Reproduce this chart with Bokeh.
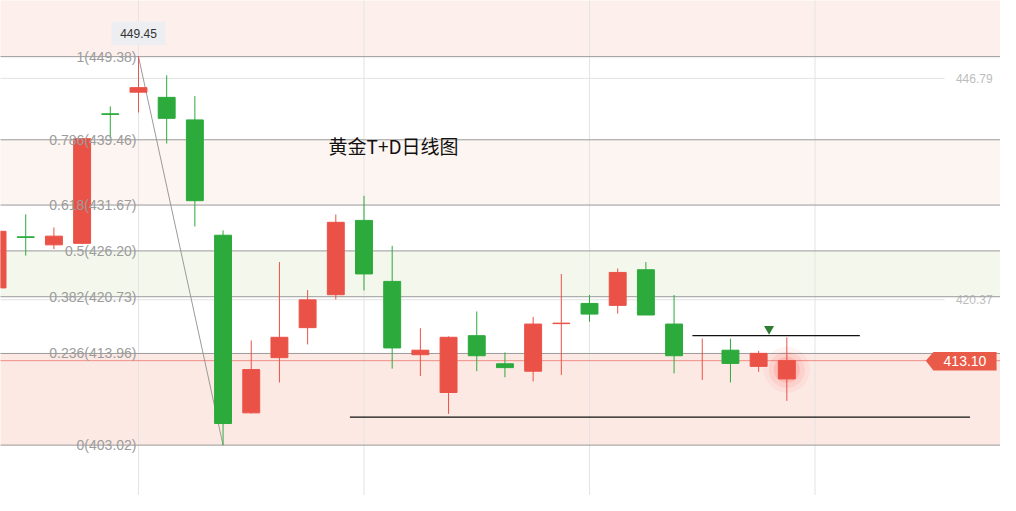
from bokeh.plotting import figure
from bokeh.models import Range1d, ColumnDataSource
from bokeh.embed import file_html
from bokeh.resources import INLINE
from bokeh.core.properties import value

# ---- data ----
idx = list(range(29))
opens = [421.78, 427.88, 426.92, 427.10, 442.56, 445.14, 444.52, 441.83, 428.07, 406.87,
         413.46, 417.04, 420.97, 429.84, 422.56, 413.81, 409.30, 416.08, 412.73, 411.84,
         417.52, 419.93, 419.70, 423.95, 417.47, 415.74, 414.35, 412.42, 410.92]
closes = [428.54, 427.80, 427.96, 439.59, 442.48, 445.68, 442.02, 432.19, 405.60, 412.04,
          415.89, 420.36, 429.61, 423.45, 414.62, 414.35, 415.89, 413.69, 412.27, 417.47,
          417.58, 418.66, 423.63, 418.55, 413.69, 415.74, 412.77, 413.97, 413.10]
highs = [429.00, 430.57, 429.00, 439.70, 443.45, 449.45, 447.15, 444.67, 428.65, 415.51,
         424.87, 421.52, 430.54, 432.77, 426.80, 416.97, 416.00, 418.97, 414.08, 418.32,
         423.45, 420.94, 424.10, 424.87, 420.94, 415.74, 415.74, 414.27, 415.89]
lows = [421.20, 425.64, 426.41, 427.00, 439.67, 442.71, 439.01, 429.11, 403.02, 406.80,
        410.50, 415.04, 420.40, 421.48, 412.15, 411.26, 406.75, 411.84, 411.11, 410.62,
        411.38, 417.74, 418.71, 418.55, 411.58, 410.80, 410.50, 411.77, 408.30]

fib_levels = ["0", "0.236", "0.382", "0.5", "0.618", "0.786", "1"]
fib_prices = [403.02, 413.96, 420.73, 426.20, 431.67, 439.46, 449.38]
fib_start = 5
fib_end = 8

right_ticks = [446.79, 420.37]
vgrid_x = [5, 13, 21, 29]

last_price = 413.10
high_tag = 449.45
title_text = "黄金T+D日线图"

support_line = (12.5, 34.5, 406.37)
resist_line = (24.65, 30.59, 416.08)
signal_x, signal_y = 27.37, 416.89

RED = "#ea5247"
GREEN = "#2caa3c"

# ---- figure ----
p = figure(width=1000, height=495, output_backend="svg", toolbar_location=None,
           x_range=Range1d(0.105, 35.58), y_range=Range1d(397.01, 456.08),
           x_axis_location=None, y_axis_location=None, min_border=0)
p.outline_line_color = None
p.xgrid.visible = False
p.ygrid.visible = False
p.background_fill_color = "white"
p.border_fill_color = "white"

xl, xr = -5, 40
# bands
p.quad(left=xl, right=xr, bottom=fib_prices[6], top=470, fill_color="#fdf0ec", line_color=None)
p.quad(left=xl, right=xr, bottom=fib_prices[4], top=fib_prices[5], fill_color="#fdf5f1", line_color=None)
p.quad(left=xl, right=xr, bottom=fib_prices[2], top=fib_prices[3], fill_color="#f4f8ec", line_color=None)
p.quad(left=xl, right=xr, bottom=fib_prices[0], top=fib_prices[1], fill_color="#fce9e4", line_color=None)

# light grid
p.segment(x0=vgrid_x, y0=[390] * 4, x1=vgrid_x, y1=[470] * 4, line_color="#e4e4e4", line_width=1)
p.segment(x0=[xl] * 2, y0=right_ticks, x1=[33.6] * 2, y1=right_ticks, line_color="#e2e2e2", line_width=1)
p.text(x=[35.3] * 2, y=right_ticks, text=["%.2f" % v for v in right_ticks], text_align="right",
       text_baseline="middle", text_font=value("Liberation Sans"), text_font_size="12px",
       text_color="#bdbdbd")

# fib lines
p.segment(x0=[xl] * 7, y0=fib_prices, x1=[xr] * 7, y1=fib_prices, line_color="#9a9a9a", line_width=1)
p.line(x=[fib_start, fib_end], y=[fib_prices[6], fib_prices[0]], line_color="#9a9a9a", line_width=1)

# current price line
p.segment(x0=[xl], y0=[last_price], x1=[xr], y1=[last_price], line_color=RED, line_alpha=0.6, line_width=1)

# drawn lines
p.segment(x0=[support_line[0], resist_line[0]], y0=[support_line[2], resist_line[2]],
          x1=[support_line[1], resist_line[1]], y1=[support_line[2], resist_line[2]],
          line_color="#111111", line_width=1.2)
p.scatter(x=[signal_x], y=[signal_y], marker="inverted_triangle", size=10, fill_color="#2f7d32",
          line_color=None)

# candles
colors = [RED if c >= o else GREEN for o, c in zip(opens, closes)]
src = ColumnDataSource(dict(x=idx, o=opens, c=closes, h=highs, l=lows,
                            top=[max(o, c) for o, c in zip(opens, closes)],
                            bot=[min(o, c) for o, c in zip(opens, closes)],
                            color=colors,
                            body_alpha=[0.0 if o == c else 1.0 for o, c in zip(opens, closes)]))
p.segment(x0="x", y0="h", x1="x", y1="l", line_color="color", line_width=1, source=src)

# glow on last candle
for s, a in [(46, 0.05), (36, 0.08), (26, 0.12)]:
    p.scatter(x=[idx[-1]], y=[(opens[-1] + closes[-1]) / 2], size=s, fill_color="#ff2a20",
              fill_alpha=a, line_color=None)

p.vbar(x="x", width=0.6, top="top", bottom="bot", fill_color="color", line_color="color",
       fill_alpha="body_alpha", line_alpha="body_alpha", line_width=1, source=src)

# fib labels
p.text(x=[fib_start - 0.07] * 7, y=fib_prices,
       text=["%s(%.2f)" % (l, v) for l, v in zip(fib_levels, fib_prices)],
       text_align="right", text_baseline="middle", text_font=value("Liberation Sans"),
       text_font_size="14px", text_color="#9c9c9c")

# high tag
p.quad(left=[fib_start - 0.96], right=[fib_start + 0.96], bottom=[450.77], top=[453.54],
       fill_color="#eceef2", line_color=None)
p.text(x=[fib_start], y=[452.15], text=["%.2f" % high_tag], text_align="center",
       text_baseline="middle", text_font=value("Liberation Sans"), text_font_size="12px",
       text_color="#333333")

# last price tag
p.patch(x=[32.93, 33.2, 35.44, 35.44, 33.2], y=[last_price, 414.12, 414.12, 411.92, 411.92],
        fill_color="#ea5a48", line_color=None)
p.text(x=[34.32], y=[last_price], text=["%.2f" % last_price], text_align="center",
       text_baseline="middle", text_font=value("Liberation Sans"), text_font_size="14px",
       text_color="white")

# title
p.text(x=[14.05], y=[438.74], text=[title_text], text_align="center", text_baseline="middle",
       text_font=value("Noto Sans CJK SC"), text_font_size="19px", text_color="#111111")

open("out.html", "w").write(file_html(p, INLINE))
